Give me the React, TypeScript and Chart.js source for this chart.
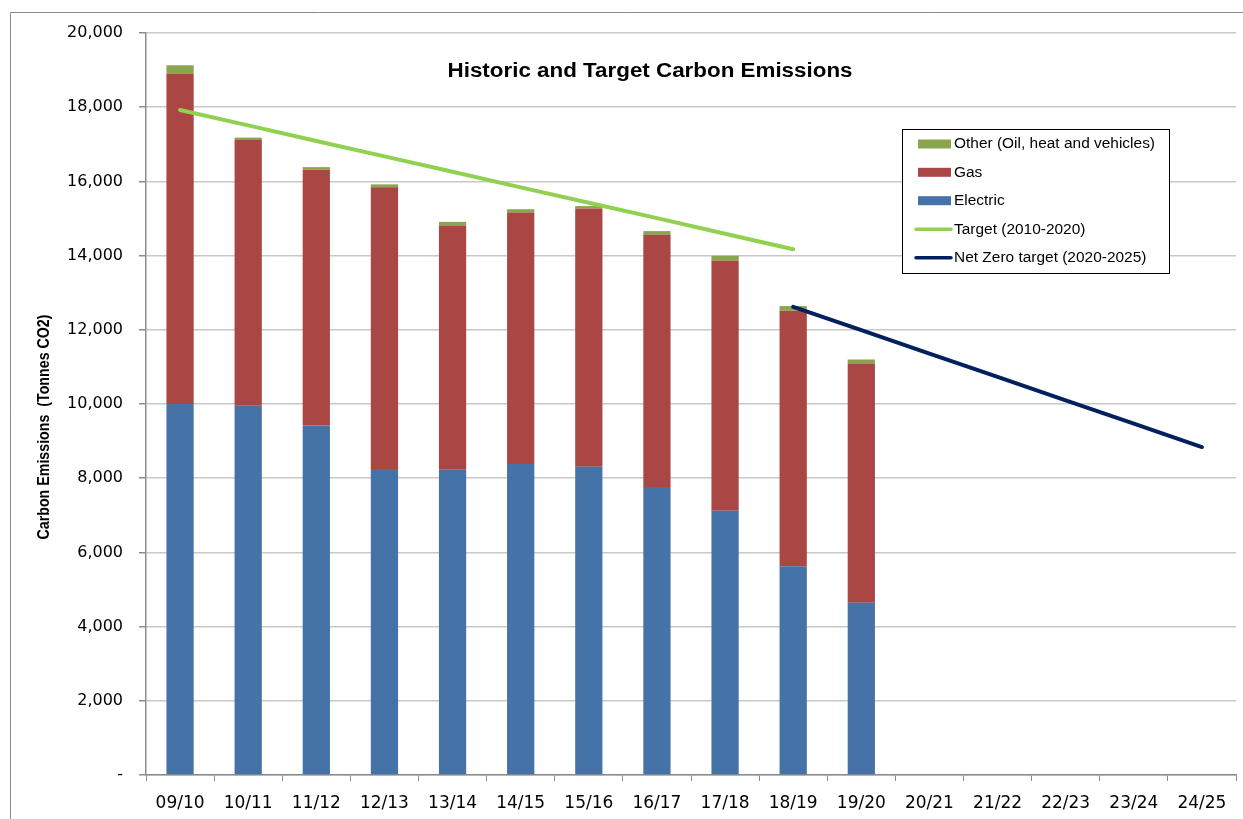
import React, { useEffect, useRef } from "react";
import { Chart, registerables } from "chart.js";

Chart.register(...registerables);

const categories = ["09/10", "10/11", "11/12", "12/13", "13/14", "14/15", "15/16", "16/17", "17/18", "18/19", "19/20", "20/21", "21/22", "22/23", "23/24", "24/25"];
const electric = [10000, 9950, 9420, 8250, 8230, 8380, 8310, 7760, 7120, 5630, 4640, null, null, null, null, null];
const gas = [8900, 7170, 6890, 7590, 6580, 6780, 6960, 6800, 6740, 6885, 6450, null, null, null, null, null];
const other = [230, 60, 75, 80, 100, 90, 65, 100, 135, 125, 110, null, null, null, null, null];
const target = [17925, 17510, 17090, 16675, 16260, 15840, 15425, 15010, 14590, 14170, null, null, null, null, null, null];
const netZero = [null, null, null, null, null, null, null, null, null, 12620, 11990, 11360, 10730, 10100, 9470, 8840];

const TITLE = "Historic and Target Carbon Emissions";
const Y_TITLE = "Carbon Emissions  (Tonnes CO2)";

const COLORS = {
  electric: "#4572A7",
  gas: "#AA4643",
  other: "#89A54E",
  target: "#92D050",
  netZero: "#002060",
};

const legendItems = [
  { label: "Other (Oil, heat and vehicles)", color: COLORS.other, kind: "box" },
  { label: "Gas", color: COLORS.gas, kind: "box" },
  { label: "Electric", color: COLORS.electric, kind: "box" },
  { label: "Target (2010-2020)", color: COLORS.target, kind: "line" },
  { label: "Net Zero target (2020-2025)", color: COLORS.netZero, kind: "line" },
];

function fitText(ctx: CanvasRenderingContext2D, text: string, x: number, y: number, width: number, font: string, rotate = 0) {
  ctx.save();
  ctx.font = font;
  const w = ctx.measureText(text).width;
  ctx.translate(x, y);
  if (rotate) ctx.rotate(rotate);
  ctx.scale(width / w, 1);
  ctx.textAlign = "center";
  ctx.textBaseline = "middle";
  ctx.fillStyle = "#000";
  ctx.fillText(text, 0, 0);
  ctx.restore();
}

const overlay = {
  id: "overlay",
  afterDraw(chart: any) {
    const ctx: CanvasRenderingContext2D = chart.ctx;
    ctx.save();
    // outer chart border
    ctx.strokeStyle = "#8c8c8c";
    ctx.lineWidth = 1;
    ctx.beginPath();
    ctx.moveTo(10.5, 819);
    ctx.lineTo(10.5, 12.5);
    ctx.lineTo(1243, 12.5);
    ctx.stroke();

    // title
    fitText(ctx, TITLE, 650, 71, 405, 'bold 20px "Liberation Sans"');
    // y axis title
    fitText(ctx, Y_TITLE, 45, 427, 225, 'bold 16px "Liberation Sans"', -Math.PI / 2);

    // legend
    const bx = 902.5, by = 129.5, bw = 267, bh = 144;
    ctx.fillStyle = "#fff";
    ctx.fillRect(bx, by, bw, bh);
    ctx.strokeStyle = "#000";
    ctx.lineWidth = 1;
    ctx.strokeRect(bx, by, bw, bh);
    const ys = [144, 172.3, 200.7, 229.3, 257.7];
    ctx.font = '14px "Liberation Sans"';
    const s = 201 / ctx.measureText(legendItems[0].label).width;
    legendItems.forEach((it, i) => {
      const y = ys[i];
      if (it.kind === "box") {
        ctx.fillStyle = it.color;
        ctx.fillRect(918, y - 4.5, 33, 9);
      } else {
        ctx.strokeStyle = it.color;
        ctx.lineWidth = 3.5;
        ctx.lineCap = "round";
        ctx.beginPath();
        ctx.moveTo(916, y);
        ctx.lineTo(951, y);
        ctx.stroke();
      }
      ctx.save();
      ctx.translate(954, y + 0.5);
      ctx.scale(s, 1);
      ctx.fillStyle = "#000";
      ctx.textAlign = "left";
      ctx.textBaseline = "middle";
      ctx.font = '14px "Liberation Sans"';
      ctx.fillText(it.label, 0, 0);
      ctx.restore();
    });
    ctx.restore();
  },
};

export default function App() {
  const ref = useRef<HTMLCanvasElement | null>(null);
  useEffect(() => {
    if (!ref.current) return;
    const chart = new Chart(ref.current, {
      type: "bar",
      data: {
        labels: categories,
        datasets: [
          { type: "line", label: "Target (2010-2020)", data: target, borderColor: COLORS.target, backgroundColor: COLORS.target, borderWidth: 4, pointRadius: 0, borderCapStyle: "round", stack: "t", order: 0 } as any,
          { type: "line", label: "Net Zero target (2020-2025)", data: netZero, borderColor: COLORS.netZero, backgroundColor: COLORS.netZero, borderWidth: 4, pointRadius: 0, borderCapStyle: "round", stack: "n", order: 0 } as any,
          { type: "bar", label: "Electric", data: electric, backgroundColor: COLORS.electric, stack: "b", order: 1, barPercentage: 0.4, categoryPercentage: 1 } as any,
          { type: "bar", label: "Gas", data: gas, backgroundColor: COLORS.gas, stack: "b", order: 1, barPercentage: 0.4, categoryPercentage: 1 } as any,
          { type: "bar", label: "Other (Oil, heat and vehicles)", data: other, backgroundColor: COLORS.other, stack: "b", order: 1, barPercentage: 0.4, categoryPercentage: 1 } as any,
        ],
      },
      options: {
        animation: false,
        responsive: false,
        maintainAspectRatio: false,
        layout: { padding: { left: 0, right: 7, top: 33, bottom: 0 } },
        plugins: { legend: { display: false }, title: { display: false }, tooltip: { enabled: false } },
        scales: {
          x: {
            stacked: true,
            offset: true,
            grid: { offset: true, drawOnChartArea: false, drawTicks: true, tickLength: 6, color: "#8c8c8c" },
            border: { color: "#8c8c8c", width: 1.5 },
            ticks: { font: { family: "DejaVu Sans", size: 17 }, color: "#000", padding: 12, maxRotation: 0, autoSkip: false },
            afterFit: (s: any) => { s.height = 44; },
          },
          y: {
            stacked: true,
            min: 0,
            max: 20000,
            ticks: {
              stepSize: 2000,
              font: { family: "DejaVu Sans", size: 16 },
              color: "#000",
              padding: 16,
              callback: (v: any) => (Number(v) === 0 ? "-" : Number(v).toLocaleString("en-US")),
            },
            grid: { color: "#c8c8c8", tickColor: "#8c8c8c", tickLength: 7, lineWidth: 1.5 },
            border: { color: "#8c8c8c", width: 1.5 },
            afterFit: (s: any) => { s.width = 146; },
          },
        },
      },
      plugins: [overlay],
    } as any);
    return () => chart.destroy();
  }, []);
  return (
    <div style={{ position: "fixed", left: 0, top: 0, width: 1243, height: 819, background: "#fff" }}>
      <canvas ref={ref} width={1243} height={819} style={{ display: "block" }} />
    </div>
  );
}
